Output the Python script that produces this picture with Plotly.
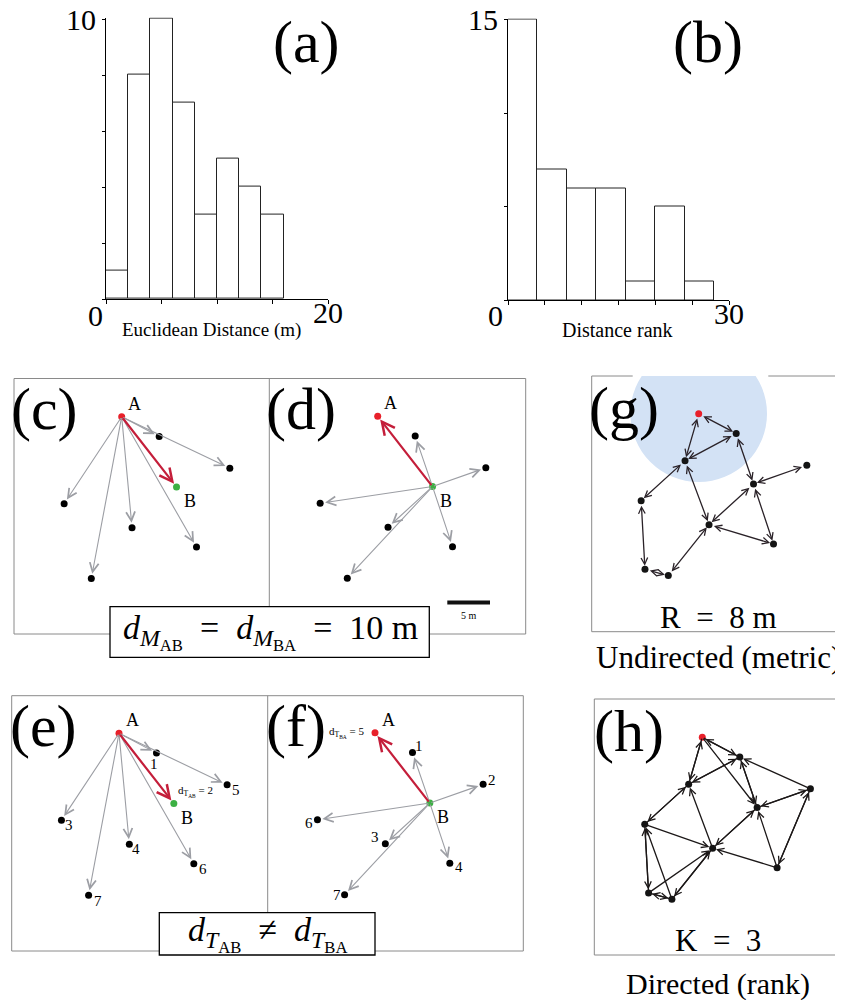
import plotly.graph_objects as go

# the page body keeps its default 8px margin, so the figure is drawn in a
# 835x992 box and every pixel position below is given in window pixels
PAGE_W, PAGE_H, BODY = 843, 1000, 8
W, H = PAGE_W - BODY, PAGE_H - BODY
SERIF = "Liberation Serif, Times New Roman, serif"

# (a) distances to the nearest neighbours (m)
dist_bins = [0, 2, 4, 6, 8, 10, 12, 14, 16]
dist_counts = [1, 8, 10, 7, 3, 5, 4, 3]
# (b) ranks of the same neighbours
rank_bins = [0, 4, 8, 12, 16, 20, 24, 28]
rank_counts = [15, 7, 6, 6, 1, 5, 1]

# positions of the group in metres, A at the origin
node_names = ["A", "P1", "B", "P2", "P3", "P4", "P5", "P6", "Q1", "Q2"]
node_x = [0.0, 4.39, 6.42, 12.66, -6.74, 1.21, 8.76, -3.56, -1.60, -6.29]
node_y = [0.0, -2.32, -8.23, -6.03, -10.18, -12.99, -15.27, -18.96, -5.50, -18.22]

pair_nodes = ["A", "P1", "B", "P2", "P3", "P4", "P5", "P6"]
rank_from_A = {"P1": 1, "B": 2, "P3": 3, "P4": 4, "P2": 5, "P5": 6, "P6": 7}
rank_from_B = {"P1": 1, "P2": 2, "P4": 3, "P5": 4, "A": 5, "P3": 6, "P6": 7}

# (g) metric network, R = 8 m
metric_radius = 8
metric_links = [("A", "P1"), ("A", "Q1"), ("P1", "Q1"), ("P1", "B"), ("Q1", "P3"),
                ("Q1", "P4"), ("P2", "B"), ("B", "P4"), ("B", "P5"), ("P4", "P5"),
                ("P3", "Q2"), ("Q2", "P6"), ("P6", "P4")]
# (h) topological network, K = 3 (source -> neighbour)
rank_links = [("A", "P1"), ("A", "Q1"), ("A", "B"),
              ("P1", "A"), ("P1", "B"), ("P1", "Q1"),
              ("Q1", "A"), ("Q1", "P1"), ("Q1", "P3"),
              ("P2", "B"), ("P2", "P1"), ("P2", "P5"),
              ("B", "P1"), ("B", "P2"), ("B", "P4"),
              ("P3", "Q1"), ("P3", "Q2"), ("P3", "P4"),
              ("P4", "B"), ("P4", "P6"), ("P4", "Q1"),
              ("P5", "B"), ("P5", "P4"), ("P5", "P2"),
              ("Q2", "P6"), ("Q2", "P3"), ("Q2", "P4"),
              ("P6", "Q2"), ("P6", "P4"), ("P6", "P3")]

X = dict(zip(node_names, node_x))
Y = dict(zip(node_names, node_y))

RED, GREEN, GREY = "#e8202a", "#3cb043", "#9c9ea4"
ARROW_RED = "#c41e3a"
FRAME = "#8a8a8a"


def fx(x):
    return min(max((x - BODY) / W, 0), 1)


def fy(y):
    return min(max(1 - (y - BODY) / H, 0), 1)


fig = go.Figure()

# ---- histograms -------------------------------------------------------
for n, (bins, counts) in enumerate([(dist_bins, dist_counts), (rank_bins, rank_counts)], start=1):
    width = bins[1] - bins[0]
    centers = [b + width / 2 for b in bins[:len(counts)]]
    fig.add_trace(go.Bar(
        x=centers, y=counts, width=width, cliponaxis=False,
        marker=dict(color="white", line=dict(color="#222", width=1)),
        xaxis="x" if n == 1 else "x2", yaxis="y" if n == 1 else "y2",
        hoverinfo="skip",
    ))

axis_common = dict(showline=True, linecolor="black", linewidth=1, ticks="outside",
                   tickcolor="black", showgrid=False, zeroline=False, automargin=False,
                   ticklabeloverflow="allow",
                   tickfont=dict(family=SERIF, size=30, color="black"))
# a hair of head room above the top count so its bar outline is not clipped
layout = dict(
    xaxis=dict(domain=[fx(106), fx(328)], range=[0, 20], anchor="y", ticklabelstandoff=-17,
               tickvals=[0, 5, 10, 15, 20], ticktext=["", "", "", "", "20"], ticklen=4, **axis_common),
    yaxis=dict(domain=[fy(299), fy(17.6)], range=[0, 10.05], anchor="x",
               tickvals=[0, 2, 4, 6, 8, 10], ticktext=["", "", "", "", "", "10"], ticklen=3, **axis_common),
    xaxis2=dict(domain=[fx(508), fx(729)], range=[0, 30], anchor="y2", ticklabelstandoff=-17,
                tickvals=[0, 5, 10, 15, 20, 25, 30], ticktext=["", "", "", "", "", "", "30"], ticklen=4, **axis_common),
    yaxis2=dict(domain=[fy(300), fy(18.5)], range=[0, 15.08], anchor="x2",
                tickvals=[0, 5, 10, 15], ticktext=["", "", "", "15"], ticklen=3, **axis_common),
)

# ---- network panels ---------------------------------------------------
S = 8.54  # pixels per metre
panels = {
    "c": dict(box=(14, 378.5, 269.3, 634), origin=(121.7, 416.7)),
    "d": dict(box=(269.3, 378.5, 525.7, 634), origin=(377.7, 416.3)),
    "e": dict(box=(11.7, 695.7, 267.7, 951), origin=(119, 733.3)),
    "f": dict(box=(267.7, 695.7, 523.3, 951), origin=(375, 732.8)),
    "g": dict(box=(591.7, 376, PAGE_W, 631.7), origin=(698.7, 413.7)),
    "h": dict(box=(594.3, 699, PAGE_W, 955), origin=(702.3, 737.3)),
}
axis_no = {}
for i, (key, p) in enumerate(panels.items()):
    n = i + 3
    axis_no[key] = n
    x0, y0, x1, y1 = p["box"]
    ox, oy = p["origin"]
    layout[f"xaxis{n}"] = dict(domain=[fx(x0), fx(x1)], range=[(x0 - ox) / S, (x1 - ox) / S],
                               visible=False, anchor=f"y{n}", fixedrange=True, automargin=False)
    layout[f"yaxis{n}"] = dict(domain=[fy(y1), fy(y0)], range=[(oy - y1) / S, (oy - y0) / S],
                               visible=False, anchor=f"x{n}", fixedrange=True, automargin=False)

annotations = []
shapes = []


def arrow(n, src, dst, color, width, size, standoff, both=False):
    a = dict(x=X[dst], y=Y[dst], ax=X[src], ay=Y[src],
             xref=f"x{n}", yref=f"y{n}", axref=f"x{n}", ayref=f"y{n}",
             text="", showarrow=True, arrowhead=5, arrowsize=size, arrowwidth=width,
             arrowcolor=color, standoff=standoff)
    if both:
        a.update(arrowside="end+start", startarrowhead=5, startarrowsize=size, startstandoff=standoff)
    return a


def label(n, name, text, dx, dy, size, anchor="center"):
    return dict(x=X[name], y=Y[name], xref=f"x{n}", yref=f"y{n}", text=text, showarrow=False,
                xshift=dx, yshift=-dy, xanchor=anchor, yanchor="middle",
                font=dict(family=SERIF, size=size, color="black"))


def nodes(n, names, colors):
    fig.add_trace(go.Scatter(
        x=[X[k] for k in names], y=[Y[k] for k in names], mode="markers",
        marker=dict(size=7, color=colors, line=dict(width=0)),
        xaxis=f"x{n}", yaxis=f"y{n}", hoverinfo="skip",
    ))


# (c)-(f): A looks at its neighbours, B looks at its neighbours
for key, focal, other in [("c", "A", "B"), ("d", "B", "A"), ("e", "A", "B"), ("f", "B", "A")]:
    n = axis_no[key]
    for k in pair_nodes:
        if k in (focal, other):
            continue
        annotations.append(arrow(n, focal, k, GREY, 1.1, 1.6, 5))
    annotations.append(arrow(n, focal, other, ARROW_RED, 2.2, 1.15, 4))
    nodes(n, pair_nodes, [RED if k == "A" else GREEN if k == "B" else "black" for k in pair_nodes])
    annotations.append(label(n, "A", "A", 13, -13, 18))
    annotations.append(label(n, "B", "B", 13, 14, 18))

rank_offsets_e = {"P1": (-2, 11), "P2": (9, 5), "P3": (8, 5), "P4": (7, 5), "P5": (9, 5), "P6": (9, 6)}
for k, (dx, dy) in rank_offsets_e.items():
    annotations.append(label(axis_no["e"], k, str(rank_from_A[k]), dx, dy, 15))
rank_offsets_f = {"P1": (7, -7), "P2": (9, -4), "P3": (-8, 3), "P4": (-10, -7), "P5": (9, 4), "P6": (-8, 0)}
for k, (dx, dy) in rank_offsets_f.items():
    annotations.append(label(axis_no["f"], k, str(rank_from_B[k]), dx, dy, 15))
annotations.append(label(axis_no["e"], "B", f"d<sub>T<sub>AB</sub></sub> = {rank_from_A['B']}", 22, -12, 11))
annotations.append(label(axis_no["f"], "A", f"d<sub>T<sub>BA</sub></sub> = {rank_from_B['A']}", -29, 0, 11))

# (g) metric and (h) rank networks
ng, nh = axis_no["g"], axis_no["h"]
shapes.append(dict(type="circle", xref=f"x{ng}", yref=f"y{ng}",
                   x0=X["A"] - metric_radius, x1=X["A"] + metric_radius,
                   y0=Y["A"] - metric_radius, y1=Y["A"] + metric_radius,
                   fillcolor="#d3e2f5", line=dict(width=0), layer="below"))
for a, b in metric_links:
    annotations.append(arrow(ng, a, b, "#2a2228", 1.3, 1.0, 3.5, both=True))
for a, b in rank_links:
    annotations.append(arrow(nh, a, b, "#1c1818", 1.3, 1.0, 3.5))
net_colors = [RED if k == "A" else "#141414" for k in node_names]
nodes(ng, node_names, net_colors)
nodes(nh, node_names, net_colors)

# scale bar in (d): 5 m
nd = axis_no["d"]
shapes.append(dict(type="line", xref=f"x{nd}", yref=f"y{nd}", x0=8.15, x1=8.15 + 5,
                   y0=-21.8, y1=-21.8, line=dict(color="#111", width=4)))
annotations.append(dict(x=8.15 + 2.5, y=-21.8, xref=f"x{nd}", yref=f"y{nd}", text="5 m",
                        showarrow=False, yshift=-13, font=dict(family=SERIF, size=10, color="black")))


# ---- frames -----------------------------------------------------------
def seg(x0, y0, x1, y1, color=FRAME, width=1):
    shapes.append(dict(type="line", xref="paper", yref="paper", x0=fx(x0), y0=fy(y0),
                       x1=fx(x1), y1=fy(y1), line=dict(color=color, width=width)))


seg(14, 378.5, 525.7, 378.5)
seg(14, 378.5, 14, 634)
seg(525.7, 378.5, 525.7, 634)
seg(14, 634, 110, 634)
seg(429.3, 634, 525.7, 634)
seg(269.3, 378.5, 269.3, 606.7)

seg(11.7, 695.7, 523.3, 695.7)
seg(11.7, 695.7, 11.7, 951)
seg(523.3, 695.7, 523.3, 951)
seg(11.7, 951, 159.3, 951)
seg(375, 951, 523.3, 951)
seg(267.7, 695.7, 267.7, 912.7)

seg(591.7, 376, 632.7, 376)
seg(768.3, 376, PAGE_W, 376)
seg(591.7, 376, 591.7, 631.7)
seg(591.7, 631.7, PAGE_W, 631.7)

seg(594.3, 699, PAGE_W, 699)
seg(594.3, 699, 594.3, 955)
seg(594.3, 955, PAGE_W, 955)

for x0, y0, x1, y1 in [(110, 606.7, 429.3, 657.3), (159.3, 912.7, 375, 955)]:
    shapes.append(dict(type="rect", xref="paper", yref="paper", x0=fx(x0), y0=fy(y0),
                       x1=fx(x1), y1=fy(y1), line=dict(color="black", width=1.3), fillcolor="white"))


# ---- free text --------------------------------------------------------
def text(x, y, s, size):
    annotations.append(dict(x=fx(x), y=fy(y), xref="paper", yref="paper", text=s, showarrow=False,
                            xanchor="center", yanchor="middle",
                            font=dict(family=SERIF, size=size, color="black")))


text(306, 42, "(a)", 60)
text(708, 42, "(b)", 60)
text(44, 409, "(c)", 60)
text(301, 409, "(d)", 60)
text(43, 726, "(e)", 60)
text(296, 726, "(f)", 60)
text(624, 408, "(g)", 60)
text(629, 731, "(h)", 60)

text(95, 315, "0", 30)
text(495, 315, "0", 30)
text(211, 330, "Euclidean Distance (m)", 19)
text(617, 330, "Distance rank", 20)

text(270, 632, "<i>d</i><sub><i>M</i><sub>AB</sub></sub>  =  <i>d</i><sub><i>M</i><sub>BA</sub></sub>  =  10 m", 34)
text(267, 934, "<i>d</i><sub><i>T</i><sub>AB</sub></sub>  \u2260  <i>d</i><sub><i>T</i><sub>BA</sub></sub>", 34)

text(718, 617, "R  =  8 m", 31)
text(718, 657, "Undirected (metric)", 31)
text(718, 940, "K  =  3", 31)
text(718, 984, "Directed (rank)", 30)

layout.update(
    width=W, height=H, margin=dict(l=0, r=0, t=0, b=0),
    paper_bgcolor="white", plot_bgcolor="rgba(0,0,0,0)",
    showlegend=False, bargap=0,
    annotations=annotations, shapes=shapes,
)
fig.update_layout(**layout)

fig.write_html("out.html")
